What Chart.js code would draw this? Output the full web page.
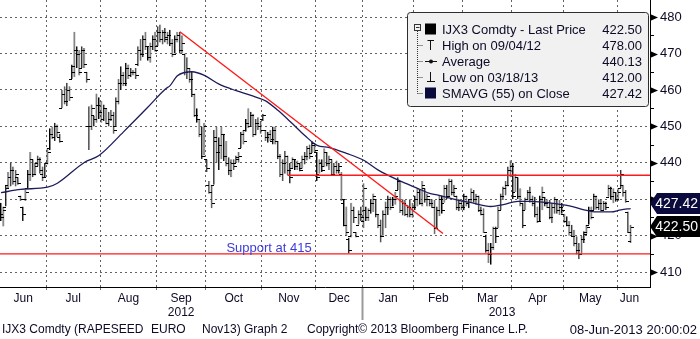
<!DOCTYPE html>
<html>
<head>
<meta charset="utf-8">
<title>IJX3 Comdty - Rapeseed Nov13</title>
<script src="https://cdn.jsdelivr.net/npm/chart.js@4.4.1/dist/chart.umd.min.js"></script>
<style>
  html, body { margin: 0; padding: 0; background: #fff; }
  #wrap { position: relative; width: 700px; height: 339px; }
</style>
</head>
<body>
<div id="wrap"><canvas id="chart"></canvas></div>
<script>
/* Rapeseed Nov13 (IJX3) daily bars, Jun 2012 - Jun 2013 */

// daily OHLC, one entry per trading day
const opens = [
  428, 426, 428, 434, 436, 438, 435, 436, 431, 428,
  430, 433, 437, 441, 437, 440, 441, 437, 436, 440,
  444, 448, 447, 450, 447, 455, 459, 457, 460, 463,
  465, 471, 470, 466, 471, 465, 450, 450, 453, 452,
  456, 454, 452, 455, 451, 452, 453, 450, 457, 462,
  464, 462, 466, 464, 465, 465, 467, 471, 470, 474,
  472, 469, 472, 474, 472, 476, 474, 476, 474, 475,
  473, 470, 474, 475, 471, 470, 465, 466, 463, 459,
  453, 452, 448, 442, 441, 434, 432, 434, 446, 443,
  445, 448, 442, 440, 438, 440, 440, 441, 444, 448,
  449, 451, 450, 453, 448, 451, 450, 452, 449, 447,
  448, 446, 449, 446, 442, 437, 440, 442, 438, 438.5,
  441, 439, 440, 438.5, 441, 442, 444, 442.7, 445, 443,
  437, 440, 439, 443, 440, 441, 437, 439, 438, 437,
  429, 423, 419, 420, 427, 421, 423, 426, 424, 427,
  425, 427, 429, 430, 426, 423, 420, 426, 428, 430,
  428, 430, 432.5, 435, 427, 429, 426, 428, 426, 428,
  430, 432, 429, 433, 430, 430, 429, 428, 422, 427,
  430, 429, 433, 431, 435, 432, 431, 428, 429, 428,
  431, 429, 430, 432, 430, 431, 427, 426, 420, 416,
  415, 417, 422, 422, 427, 431, 433, 434, 438, 439,
  432, 436, 431, 429, 427, 430, 432, 430, 429, 426,
  424, 430, 430.5, 429, 428, 425, 428, 430, 427, 428,
  426, 424, 423, 421, 420, 418, 416, 415, 419, 421,
  423, 427, 427, 431, 428, 429, 427, 429, 430.7, 433,
  431, 432, 430, 433, 434, 432, 426.6, 418.5
];
const highs = [
  429, 428, 434, 437.5, 440, 439, 438, 436, 431, 428,
  432.5, 438, 443, 441, 440, 442, 441.5, 439, 440, 444,
  449.5, 450, 451, 450.5, 448, 460, 461, 462, 461, 467,
  476, 472, 471, 472, 471.5, 465, 455.5, 456, 453, 459,
  458, 457, 456, 455, 454, 454.5, 454, 458, 463, 466.5,
  465, 467.5, 467, 466, 465.5, 466, 472, 474, 475, 476,
  472, 473, 475, 476, 477.5, 478, 476.5, 477, 476, 476.5,
  474, 475, 476, 476, 475, 470, 469, 466, 465, 459,
  455, 452, 450, 451, 441, 435, 434, 449, 450, 447,
  450, 448, 446, 441.5, 441, 441, 442, 443, 448.5, 449,
  452, 455, 454, 453.5, 452, 452.5, 451.5, 453.5, 449, 448.5,
  449, 450, 450, 446, 442.4, 441, 443.3, 442, 440, 441.5,
  441, 440.6, 440, 442, 443, 444.7, 445, 446, 445.5, 443,
  441, 441, 444, 443, 442, 441, 440, 440.6, 440, 437.5,
  429.8, 428, 419.5, 429, 428, 421, 427, 428, 434.4, 428,
  427.5, 430, 431.6, 430, 426, 424.4, 427, 429.4, 431, 430.7,
  430.7, 432, 436, 435, 430, 429.8, 428.5, 430, 429, 431,
  433, 432.5, 435, 433, 431.6, 430, 430, 429.8, 428, 431.2,
  431, 434, 434, 435.7, 435.5, 434, 431, 430, 429.5, 431.6,
  431, 430, 433, 432.5, 431.5, 431, 428, 427.5, 420.3, 418,
  418, 422.5, 422.5, 428, 431.6, 433.5, 435, 439, 440.7, 440,
  437, 436, 433, 429, 430.5, 432.5, 433.5, 431, 430.7, 428,
  431, 433.5, 430.7, 430, 429.8, 429, 430.7, 430, 429.8, 429,
  426, 425.3, 424, 423, 421.6, 419.8, 418, 420, 421.2, 423,
  428, 428, 431.6, 431, 430, 430, 429.5, 429.4, 434, 433.5,
  433, 432, 433, 438, 434, 432.5, 426.6, 423
];
const lows = [
  424, 422.5, 428, 433, 433.5, 434, 433.5, 434, 429.5, 424,
  429.5, 433, 435, 436, 436.5, 439, 437, 435, 436, 439.5,
  443.5, 446.5, 446, 447, 445.5, 455, 456, 455.5, 457, 463,
  463.5, 466, 464, 466, 466, 462, 443.5, 449, 450, 451,
  452, 451, 451.5, 450.5, 450, 451.5, 448, 450, 456, 460,
  461, 461, 463, 463.5, 464, 463, 466.5, 468, 469, 471,
  468, 467.5, 471, 470.5, 472, 473, 472.5, 473, 472.5, 472,
  469, 470, 473, 470, 470, 464, 463, 462, 458, 452.5,
  451, 447, 441, 442, 437.5, 431.5, 427.5, 434, 440, 438,
  441, 440.5, 439, 436.6, 436, 438, 440, 440, 444, 445,
  448.5, 449.5, 450, 447, 447.5, 449, 448, 451.5, 446, 445.5,
  446, 445, 445, 441, 436, 435, 437, 436.5, 434.3, 438.4,
  438, 438, 437.6, 438.4, 439.5, 440.6, 441, 442.7, 443, 435,
  437, 437.5, 438.8, 439, 438, 436.6, 436.8, 437, 437, 429.5,
  422.5, 419.8, 415.1, 419.5, 423.5, 419.5, 423, 424, 422, 424,
  424, 426, 426.5, 425, 422, 418.1, 420, 422, 425.7, 427,
  428, 428.5, 432.5, 426.2, 425.5, 425.3, 425, 425, 424.9, 427,
  428, 428.5, 428, 429, 428, 428, 427.5, 420.4, 422, 425.3,
  426, 429, 430, 430.5, 431, 430.7, 427, 426.7, 427, 427,
  428, 427.5, 429, 429, 428.5, 426.5, 425.5, 420.7, 415.3, 412.5,
  412, 416, 418, 422, 427, 429.8, 431, 433.5, 436, 430,
  432, 430, 428, 422, 427, 429.8, 429, 428, 425, 423.5,
  424, 427, 428, 427.5, 424.4, 423.5, 426, 426, 425.7, 426,
  423.5, 422.5, 420, 419.8, 417, 414.8, 413.5, 415, 418, 420.5,
  423, 424.4, 427, 427.1, 427, 426.6, 427, 427, 430.7, 430,
  428.9, 429.3, 429.5, 433, 430.7, 429, 420.7, 418
];
const closes = [
  425, 427, 433, 436, 438, 435, 437, 434.5, 430, 426,
  432, 437, 441, 437, 439, 441, 438, 436, 440, 443,
  448, 447, 450, 448.5, 446, 459, 457, 460, 458, 466.5,
  471, 470, 465, 471, 467, 463, 450, 455, 452, 456,
  454, 452, 455, 451, 452, 453, 449, 457, 462, 464,
  462, 466, 464, 465, 465, 464, 471, 470, 474, 472,
  469, 472, 474, 471, 476, 474, 476, 474.5, 475, 473,
  470, 474, 475, 471, 473, 465, 466, 463, 459, 453,
  452, 448, 442, 450, 438.5, 432, 429, 447, 443, 445,
  448, 442, 440, 438, 440, 439, 441.5, 442, 448, 446,
  451, 450, 453, 448, 451, 450, 449, 453, 447, 448,
  446.5, 449, 446, 442, 437, 440, 442, 438, 436, 441,
  439, 440, 438, 441, 442, 444, 442, 445.5, 443.5, 436,
  440, 438, 443, 440, 441, 437, 439, 438, 439, 430,
  423, 421, 416, 427, 425, 419.8, 426, 425, 433, 425,
  427, 429, 431, 426, 423, 420, 426, 428, 430, 428,
  430, 431, 435, 427, 429, 426, 428, 426, 428, 430,
  432, 429, 434, 430, 431, 429, 428, 422, 427, 430,
  427, 433, 431, 435, 432, 433, 428, 429, 428, 431,
  429, 430, 432, 430, 431, 427, 426, 421, 416, 415,
  417, 422, 420, 427, 431, 433, 434, 438, 439, 431,
  436, 431, 429, 423, 430, 432, 430, 429.5, 426, 424,
  430, 432, 429, 428, 425, 428, 430, 427, 428, 427,
  424, 423, 421, 420, 418, 416, 415, 419, 420.5, 422.5,
  427, 425, 431, 428, 429, 427, 429, 428, 433, 431,
  432, 430, 432, 437, 432, 429.5, 421, 422.5
];

// SMAVG (55) on close, read at selected bars
const smaDays = [0, 8, 19, 23, 34, 40, 50, 60, 67, 69, 72, 78, 83, 89, 96, 102, 108, 113, 119, 124,
  129, 134, 141, 148, 154, 162, 170, 175, 178, 186, 189, 191, 200, 205, 211, 216, 221, 227, 232, 238,
  243, 249, 253, 257];
const smaValues = [431.8, 432.7, 433.3, 434.4, 440.1, 442, 448.5, 455.3, 460.2, 461.2, 463.9, 465, 464, 461.6, 459.8, 458.5, 457, 454.4, 450.7, 447.5,
  444.8, 444.2, 442.6, 440.7, 438, 435.3, 433, 431.6, 431.2, 429.8, 429.4, 429.2, 428, 428.5, 429.4, 429.4, 429.2, 428.7, 428.2, 427.1,
  426.5, 426.5, 427.1, 427.42];

// drawn-in lines: downtrend, resistance, support
const trendDays = [73, 180.4];
const trendValues = [476, 420.6];
const resistanceFrom = 117;
const resistanceLevel = 436.6;
const supportLevel = 415;

const monthNames = ['Jun', 'Jul', 'Aug', 'Sep', 'Oct', 'Nov', 'Dec', 'Jan', 'Feb', 'Mar', 'Apr', 'May', 'Jun'];
const monthStarts = [19, 41, 64, 84, 107, 129, 148, 169, 189, 209, 230, 252]; // first bar of Jul 2012 .. Jun 2013
const yearNames = ['2012', '2013'];
const yearStart = 148; // first bar of 2013
const avgPrice = 440.13;
const highDate = '09/04/12';
const lowDate = '03/18/13';

const FONT = "'Liberation Sans', Arial, sans-serif";
const INK = '#0b0b26';
const GRID = '#626262';
const X_MIN = -0.41;
const X_MAX = 264.9;

// x axis ticks: month boundaries (grid), month names, year names
const lastDay = closes.length - 1;
const bounds = monthStarts.map(d => d - 0.5);
const edges = [X_MIN, ...bounds, lastDay + 4.5];
const xTicks = [];
bounds.forEach(v => xTicks.push({ value: v, label: '', kind: 'b' }));
monthNames.forEach((m, k) => xTicks.push({ value: (edges[k] + edges[k + 1]) / 2, label: m, kind: 'm' }));
xTicks.push({ value: (X_MIN + yearStart - 0.5) / 2, label: ['', yearNames[0]], kind: 'y' });
xTicks.push({ value: (yearStart - 0.5 + lastDay + 4.5) / 2, label: ['', yearNames[1]], kind: 'y' });
xTicks.sort((a, b) => a.value - b.value);

const bars = highs.map((h, i) => ({ x: i, y: [lows[i], h] }));
const sma = smaDays.map((d, k) => ({ x: d, y: smaValues[k] }));

// open (left) and close (right) ticks on every bar
const ohlcTicks = {
  id: 'ohlcTicks',
  afterDatasetDraw(chart, args) {
    if (args.index !== 3) return;
    const { ctx, scales: { x, y } } = chart;
    ctx.save();
    ctx.strokeStyle = '#000';
    ctx.lineWidth = 1;
    ctx.beginPath();
    closes.forEach((c, i) => {
      const px = Math.round(x.getPixelForValue(i));
      const yo = Math.round(y.getPixelForValue(opens[i])) + 0.5;
      const yc = Math.round(y.getPixelForValue(c)) + 0.5;
      ctx.moveTo(px - 3, yo); ctx.lineTo(px, yo);
      ctx.moveTo(px, yc); ctx.lineTo(px + 3, yc);
    });
    ctx.stroke();
    ctx.restore();
  }
};

function valueTag(ctx, x0, yc, text, fill) {
  ctx.fillStyle = fill;
  ctx.beginPath();
  ctx.moveTo(x0, yc);
  ctx.lineTo(x0 + 7, yc - 10.5);
  ctx.lineTo(700, yc - 10.5);
  ctx.lineTo(700, yc + 10.5);
  ctx.lineTo(x0 + 7, yc + 10.5);
  ctx.closePath();
  ctx.fill();
  ctx.fillStyle = '#fff';
  ctx.font = '14px ' + FONT;
  ctx.textAlign = 'right';
  ctx.textBaseline = 'middle';
  ctx.fillText(text, 698, yc + 1);
}

function drawLegend(ctx) {
  const bx = 407.5, by = 12.5, bw = 241, bh = 94;
  ctx.fillStyle = '#f1f1f1';
  ctx.strokeStyle = '#2e2e2e';
  ctx.lineWidth = 1;
  ctx.beginPath();
  ctx.roundRect(bx, by, bw, bh, 3);
  ctx.fill();
  ctx.stroke();

  const rows = [
    ['IJX3 Comdty - Last Price', closes[lastDay].toFixed(2)],
    ['High on ' + highDate, Math.max(...highs).toFixed(2)],
    ['Average', avgPrice.toFixed(2)],
    ['Low on ' + lowDate, Math.min(...lows).toFixed(2)],
    ['SMAVG (55) on Close', smaValues[smaValues.length - 1].toFixed(2)]
  ];
  const rowY = k => 29 + k * 16;

  // tree connector
  ctx.strokeStyle = '#333';
  ctx.setLineDash([1, 1]);
  ctx.beginPath();
  ctx.moveTo(417.5, 31); ctx.lineTo(417.5, rowY(4) + 0.5);
  for (let k = 1; k < 5; k++) { ctx.moveTo(417.5, rowY(k) + 0.5); ctx.lineTo(423, rowY(k) + 0.5); }
  ctx.stroke();
  ctx.setLineDash([]);
  ctx.fillStyle = '#f1f1f1';
  ctx.fillRect(414.5, 24.5, 6, 6);
  ctx.strokeRect(414.5, 24.5, 6, 6);
  ctx.beginPath(); ctx.moveTo(416, 27.5); ctx.lineTo(419.5, 27.5); ctx.stroke();

  // series markers
  ctx.fillStyle = '#000';
  ctx.fillRect(425, rowY(0) - 5.5, 11, 11);
  ctx.fillStyle = '#0a0a3c';
  ctx.fillRect(425, rowY(4) - 5.5, 11, 11);
  ctx.strokeStyle = '#111';
  ctx.beginPath();
  ctx.moveTo(430.5, rowY(1) - 5); ctx.lineTo(430.5, rowY(1) + 5);
  ctx.moveTo(427.5, rowY(1) - 4.5); ctx.lineTo(434, rowY(1) - 4.5);
  ctx.moveTo(425, rowY(2) + 0.5); ctx.lineTo(437, rowY(2) + 0.5);
  ctx.moveTo(430.5, rowY(3) - 5); ctx.lineTo(430.5, rowY(3) + 5);
  ctx.moveTo(427, rowY(3) + 4.5); ctx.lineTo(435, rowY(3) + 4.5);
  ctx.stroke();
  ctx.fillStyle = '#111';
  ctx.beginPath(); ctx.arc(431, rowY(2) + 0.5, 2, 0, Math.PI * 2); ctx.fill();

  ctx.font = '13px ' + FONT;
  ctx.fillStyle = INK;
  ctx.textBaseline = 'middle';
  rows.forEach(([label, value], k) => {
    ctx.textAlign = 'left';
    ctx.fillText(label, 442, rowY(k) + 1);
    ctx.textAlign = 'right';
    ctx.fillText(value, 642, rowY(k) + 1);
  });
}

const decorations = {
  id: 'decorations',
  afterDraw(chart) {
    const { ctx, chartArea, scales: { x, y } } = chart;
    ctx.save();

    // right axis marks: arrows on labelled levels, short ticks between
    const ax = chartArea.right;
    ctx.fillStyle = '#000';
    ctx.strokeStyle = '#000';
    ctx.lineWidth = 1;
    y.ticks.forEach(t => {
      const py = Math.round(y.getPixelForValue(t.value)) + 0.5;
      if (t.value % 10 === 0) {
        ctx.beginPath();
        ctx.moveTo(ax, py - 3.5); ctx.lineTo(ax + 8, py); ctx.lineTo(ax, py + 3.5);
        ctx.closePath(); ctx.fill();
      } else {
        ctx.beginPath(); ctx.moveTo(ax, py); ctx.lineTo(ax + 4, py); ctx.stroke();
      }
    });

    // year divider under the axis
    const yx = Math.round(x.getPixelForValue(yearStart - 0.5)) + 0.5;
    ctx.strokeStyle = '#9a9a9a';
    ctx.lineWidth = 2;
    ctx.beginPath(); ctx.moveTo(yx, chartArea.bottom + 1); ctx.lineTo(yx, chartArea.bottom + 33); ctx.stroke();

    // support label
    ctx.font = '13px ' + FONT;
    ctx.fillStyle = '#3c3cd8';
    ctx.textAlign = 'left';
    ctx.textBaseline = 'alphabetic';
    ctx.fillText('Support at ' + supportLevel, x.getPixelForValue(92), y.getPixelForValue(supportLevel) - 2);

    // last value tags on the right axis
    const yLast = y.getPixelForValue(closes[lastDay]);
    let ySma = y.getPixelForValue(smaValues[smaValues.length - 1]);
    if (yLast - ySma < 23) ySma = yLast - 23;
    valueTag(ctx, ax, ySma, smaValues[smaValues.length - 1].toFixed(2), '#0a0a3c');
    valueTag(ctx, ax, yLast, closes[lastDay].toFixed(2), '#000');

    drawLegend(ctx);

    // footer line
    ctx.font = '12px ' + FONT;
    ctx.fillStyle = INK;
    ctx.textAlign = 'left';
    ctx.textBaseline = 'middle';
    ctx.fillText('IJX3 Comdty (RAPESEED', 2, 330);
    ctx.fillText('EURO', 151, 330);
    ctx.fillText('Nov13) Graph 2', 202, 330);
    ctx.fillText('Copyright\u00a9 2013 Bloomberg Finance L.P.', 307, 330);
    ctx.font = '13px ' + FONT;
    ctx.textAlign = 'right';
    ctx.fillText('08-Jun-2013 20:00:02', 697, 330);
    ctx.restore();
  }
};

new Chart(document.getElementById('chart'), {
  type: 'line',
  data: {
    datasets: [
      {
        label: 'Trend',
        data: trendDays.map((d, k) => ({ x: d, y: trendValues[k] })),
        borderColor: '#ff1a1a', borderWidth: 1.4, pointRadius: 0, order: 1
      },
      {
        label: 'Resistance',
        data: [{ x: resistanceFrom, y: resistanceLevel }, { x: X_MAX, y: resistanceLevel }],
        borderColor: '#ff1a1a', borderWidth: 1.4, pointRadius: 0, order: 1
      },
      {
        label: 'Support',
        data: [{ x: X_MIN, y: supportLevel }, { x: X_MAX, y: supportLevel }],
        borderColor: '#ff1a1a', borderWidth: 1.4, pointRadius: 0, order: 1
      },
      {
        type: 'bar',
        label: 'IJX3 Comdty',
        data: bars,
        backgroundColor: '#8a8a8a',
        borderColor: '#000',
        borderWidth: { left: 1, right: 0, top: 0, bottom: 0 },
        borderSkipped: false,
        barThickness: 2,
        inflateAmount: 0,
        grouped: false,
        order: 3
      },
      {
        label: 'SMAVG (55)',
        data: sma,
        borderColor: '#1c1c5a', borderWidth: 1.3, pointRadius: 0,
        cubicInterpolationMode: 'monotone', order: 2
      }
    ]
  },
  options: {
    responsive: true,
    maintainAspectRatio: false,
    animation: false,
    layout: { padding: 0 },
    plugins: { legend: { display: false }, tooltip: { enabled: false } },
    scales: {
      x: {
        type: 'linear',
        min: X_MIN, max: X_MAX,
        offset: false,
        afterBuildTicks: s => { s.ticks = xTicks.map(t => ({ value: t.value })); },
        afterFit: s => { s.height = 52; s.paddingLeft = 0; s.paddingRight = 0; },
        grid: {
          offset: false,
          color: c => (xTicks[c.index] && xTicks[c.index].kind === 'b') ? GRID : 'rgba(0,0,0,0)',
          tickColor: c => (xTicks[c.index] && xTicks[c.index].kind === 'b') ? '#777' : 'rgba(0,0,0,0)',
          tickLength: 4,
          tickBorderDash: [2, 2]
        },
        border: { display: true, color: '#000', width: 1, dash: [2, 3] },
        ticks: {
          autoSkip: false, maxRotation: 0, padding: 0,
          color: INK, font: { family: FONT, size: 12 },
          callback: (v, i) => xTicks[i] ? xTicks[i].label : ''
        }
      },
      y: {
        position: 'right',
        min: 405.9, max: 484.7,
        beginAtZero: false,
        afterFit: s => { s.width = 50; s.paddingTop = 0; s.paddingBottom = 0; },
        grid: {
          color: c => (c.tick && c.tick.value % 10 === 0) ? GRID : 'rgba(0,0,0,0)',
          tickColor: 'rgba(0,0,0,0)',
          tickLength: 7
        },
        border: { display: true, color: '#000', width: 1, dash: [2, 3] },
        ticks: {
          stepSize: 5, includeBounds: false, padding: 3,
          color: INK, font: { family: FONT, size: 13 },
          callback: v => v % 10 === 0 ? v : ''
        }
      }
    }
  },
  plugins: [ohlcTicks, decorations]
});
</script>
</body>
</html>
